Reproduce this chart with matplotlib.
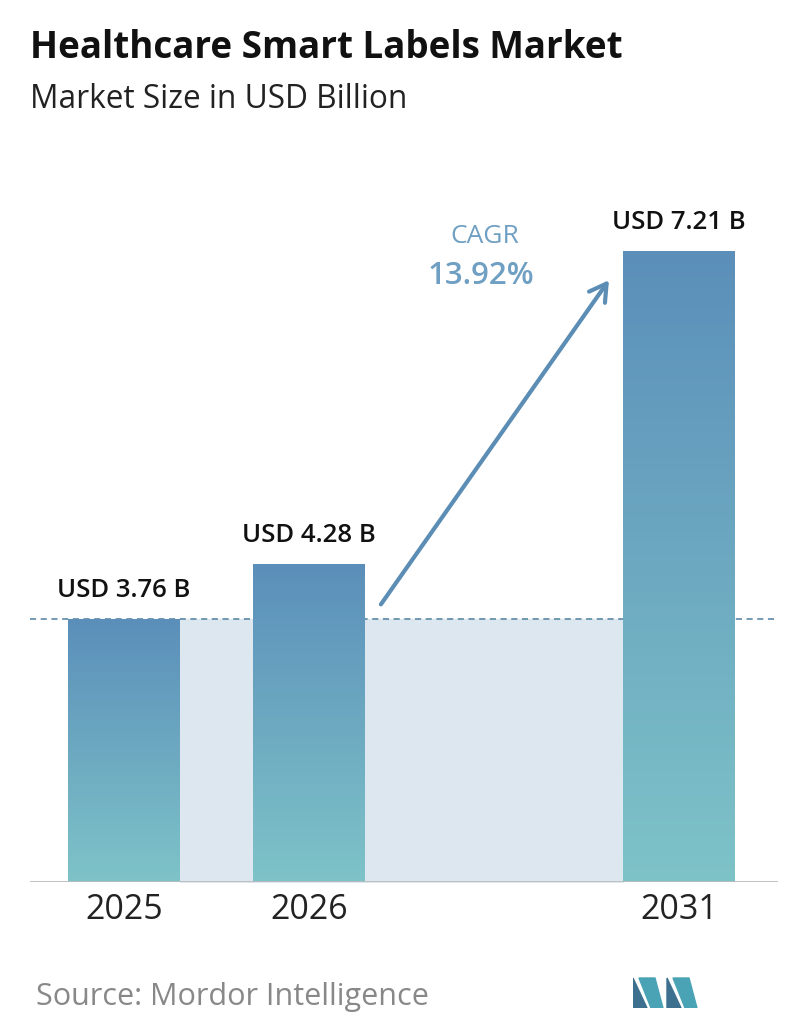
import numpy as np
import matplotlib.pyplot as plt
from matplotlib.patches import Rectangle, Polygon
from matplotlib.colors import LinearSegmentedColormap

years = ["2025", "2026", "2031"]
values = [3.76, 4.28, 7.21]
labels = ["USD 3.76 B", "USD 4.28 B", "USD 7.21 B"]
positions = [0, 1, 3]
cagr = "13.92%"

W, H = 796, 1034
fig = plt.figure(figsize=(W / 100, H / 100), dpi=100)
plt.rcParams['font.family'] = ['Open Sans', 'DejaVu Sans']

ax = fig.add_axes([30 / W, 152 / H, 748 / W, 682 / H])
ymin, ymax = 1.30, 7.69
for s in ax.spines.values():
    s.set_visible(False)
ax.set_xticks([])
ax.set_yticks([])

bw = 0.605
# shaded region between bars at the 2025 level
ax.fill_between([positions[0] + bw / 2, positions[2] - bw / 2], ymin, values[0],
                color="#dde7f0", zorder=0)
ax.axhline(values[0], color="#4f7f9f", ls=(0, (4, 3)), lw=1.1, zorder=1)
ax.axhline(ymin, color="#bbbbbb", lw=2, zorder=3)

grad = np.linspace(0, 1, 256).reshape(-1, 1)
cmap = LinearSegmentedColormap.from_list("b", ["#7ec3c8", "#5b8fba"])
for x, v, lab, yr in zip(positions, values, labels, years):
    rect = Rectangle((x - bw / 2, ymin), bw, v - ymin, facecolor="none", edgecolor="none")
    ax.add_patch(rect)
    im = ax.imshow(grad, cmap=cmap, origin="lower", aspect="auto",
                   extent=(x - bw / 2, x + bw / 2, ymin, v), zorder=2)
    im.set_clip_path(rect)
    ax.text(x, v + 0.15, lab, ha="center", va="bottom", fontsize=18.5, fontweight="semibold", color="#111111")
    ax.text(x, ymin - 0.1, yr, ha="center", va="top", fontsize=24.5, color="#222222")

ax.annotate("", xy=(2.63, 6.96), xytext=(1.38, 3.88),
            arrowprops=dict(arrowstyle="->,head_length=1.2,head_width=0.7", color="#5b8db5", lw=3))
ax.text(1.95, 7.35, "CAGR", ha="center", va="center", fontsize=19, color="#6f9fc2")
ax.text(1.93, 6.98, cagr, ha="center", va="center", fontsize=22.5, fontweight="semibold", color="#6f9fc2")

ax.set_xlim(-0.508, 3.535)
ax.set_ylim(ymin, ymax)

fig.text(30 / W, 1 - 48 / H, "Healthcare Smart Labels Market", fontsize=26.5, fontweight="bold",
         color="#111111", va="center")
fig.text(30 / W, 1 - 100 / H, "Market Size in USD Billion", fontsize=22.8, color="#222222", va="center")
fig.text(36 / W, 1 - 997 / H, "Source: Mordor Intelligence", fontsize=22, color="#888888", va="center")

# logo
lx = fig.add_axes([633 / W, 1 - 1008 / H, 68 / W, 34 / H])
lx.axis("off")
lx.set_xlim(0, 68)
lx.set_ylim(0, 34)
lx.add_patch(Polygon([(0, 0), (0, 30), (14, 0)], color="#3d6f8f"))
lx.add_patch(Polygon([(6, 30), (22, 30), (30, 0), (18, 0)], color="#4aa3b5"))
lx.add_patch(Polygon([(34, 0), (34, 30), (48, 0)], color="#3d6f8f"))
lx.add_patch(Polygon([(40, 30), (56, 30), (64, 0), (52, 0)], color="#4aa3b5"))

fig.savefig("out.png", dpi=100)
